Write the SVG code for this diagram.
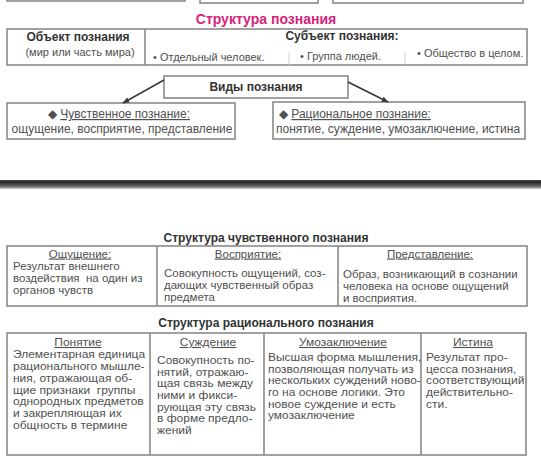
<svg xmlns="http://www.w3.org/2000/svg" width="541" height="472" viewBox="0 0 541 472">
<defs>
<style>
.box{fill:#fff;stroke:#8a8a8a;stroke-width:1.6}
.thin{stroke:#d0d0d0;stroke-width:1}
.t{font-family:"Liberation Sans",Arial,sans-serif;font-size:11px;fill:#505050}
.t12{font-family:"Liberation Sans",Arial,sans-serif;font-size:12px;fill:#505050}
.t11{font-family:"Liberation Sans",Arial,sans-serif;font-size:11px;fill:#505050}
.t115{font-family:"Liberation Sans",Arial,sans-serif;font-size:11.5px;fill:#505050}
.b{font-family:"Liberation Sans",Arial,sans-serif;font-size:12px;font-weight:bold;fill:#333}
.title{font-family:"Liberation Sans",Arial,sans-serif;font-size:14px;font-weight:bold;fill:#d6237b}
.u{text-decoration:underline}
.c{text-anchor:middle}
.conn{stroke:#3a3a3a;stroke-width:1.6;fill:none}
</style>
<marker id="arr" viewBox="0 0 10 10" refX="9" refY="5" markerWidth="7" markerHeight="7" orient="auto" markerUnits="userSpaceOnUse">
<path d="M0,1 L10,5 L0,9 Z" fill="#3a3a3a"/>
</marker>
<linearGradient id="band" x1="0" y1="0" x2="0" y2="1">
<stop offset="0" stop-color="#555"/>
<stop offset="0.2" stop-color="#222"/>
<stop offset="0.7" stop-color="#666"/>
<stop offset="0.85" stop-color="#999"/>
<stop offset="0.9" stop-color="#eee"/>
<stop offset="1" stop-color="#888"/>
</linearGradient>
</defs>

<!-- cropped boxes at top -->
<g id="top-cropped">
<rect class="box" x="7" y="-20" width="178" height="21"/>
<rect class="box" x="200" y="-20" width="118" height="23"/>
<rect class="box" x="333" y="-20" width="190" height="23"/>
</g>

<text class="title c" x="266" y="24">Структура познания</text>

<g id="object-subject">
<rect class="box" x="7" y="29" width="520" height="36"/>
<line class="box" x1="145" y1="29" x2="145" y2="65"/>
<line class="thin" x1="289" y1="52" x2="289" y2="65"/>
<line class="thin" x1="405" y1="52" x2="405" y2="65"/>
<text class="b c" x="78" y="41">Объект познания</text>
<text class="t c" x="80" y="56">(мир или часть мира)</text>
<text class="b c" x="342" y="40">Субъект познания:</text>
<text class="t" x="153" y="61">• Отдельный человек.</text>
<text class="t" x="300" y="60">• Группа людей.</text>
<text class="t" x="417" y="57">• Общество в целом.</text>
</g>

<g id="vidy">
<rect class="box" x="164" y="76" width="184" height="22"/>
<text class="b c" x="256" y="91">Виды познания</text>
</g>

<g id="chuvstv">
<rect class="box" x="7" y="103" width="228" height="36"/>
<text class="t12 c" x="119" y="118">◆ <tspan class="u">Чувственное познание:</tspan></text>
<text class="t12 c" x="122" y="133">ощущение, восприятие, представление</text>
</g>

<g id="racion">
<rect class="box" x="273" y="102" width="252" height="37"/>
<text class="t12" x="279" y="118">◆ <tspan class="u">Рациональное познание:</tspan></text>
<text class="t12" x="276" y="133">понятие, суждение, умозаключение, истина</text>
</g>

<g id="connectors">
<line class="conn" x1="164" y1="80" x2="123" y2="103" marker-end="url(#arr)"/>
<line class="conn" x1="348" y1="82" x2="388" y2="102" marker-end="url(#arr)"/>
</g>

<rect x="0" y="180" width="541" height="9" fill="url(#band)"/>

<text class="b c" x="266" y="242">Структура чувственного познания</text>

<g id="sens-table">
<rect class="box" x="7" y="246" width="520" height="60"/>
<line class="box" x1="157" y1="246" x2="157" y2="306"/>
<line class="box" x1="338" y1="246" x2="338" y2="306"/>
</g>
<g id="oshch">
<text class="t115 c u" x="80" y="257.5">Ощущение:</text>
<text class="t115" x="13" y="269.5">Результат внешнего</text>
<text class="t115" x="13" y="281.5">воздействия&#160; на один из</text>
<text class="t115" x="13" y="293.5">органов чувств</text>
</g>
<g id="vospr">
<text class="t115 c u" x="248" y="257.5">Восприятие:</text>
<text class="t115" x="164" y="277">Совокупность ощущений, соз-</text>
<text class="t115" x="164" y="289">дающих чувственный образ</text>
<text class="t115" x="164" y="301">предмета</text>
</g>
<g id="predst">
<text class="t115 c u" x="430" y="257.5">Представление:</text>
<text class="t115" x="343" y="278">Образ, возникающий в сознании</text>
<text class="t115" x="343" y="290">человека на основе ощущений</text>
<text class="t115" x="343" y="302">и восприятия.</text>
</g>

<text class="b c" x="266" y="327">Структура рационального познания</text>

<g id="rat-table">
<rect class="box" x="7" y="333" width="519" height="122"/>
<line class="box" x1="150" y1="333" x2="150" y2="455"/>
<line class="box" x1="264" y1="333" x2="264" y2="455"/>
<line class="box" x1="421" y1="333" x2="421" y2="455"/>
</g>
<g id="ponyatie" transform="translate(13,0) scale(1.09,1)">
<text class="t11 c u" x="59.6" y="346">Понятие</text>
<text class="t11" x="0" y="358.5">Элементарная единица</text>
<text class="t11" x="0" y="370.2">рационального мышле-</text>
<text class="t11" x="0" y="381.9">ния, отражающая об-</text>
<text class="t11" x="0" y="393.6">щие признаки&#160; группы</text>
<text class="t11" x="0" y="405.3">однородных предметов</text>
<text class="t11" x="0" y="417">и закрепляющая их</text>
<text class="t11" x="0" y="428.7">общность в термине</text>
</g>
<g id="suzhdenie" transform="translate(157,0) scale(1.09,1)">
<text class="t11 c u" x="46.8" y="346">Суждение</text>
<text class="t11" x="0" y="364">Совокупность по-</text>
<text class="t11" x="0" y="375.7">нятий, отражаю-</text>
<text class="t11" x="0" y="387.4">щая связь между</text>
<text class="t11" x="0" y="399.1">ними и фикси-</text>
<text class="t11" x="0" y="410.8">рующая эту связь</text>
<text class="t11" x="0" y="422.5">в форме предло-</text>
<text class="t11" x="0" y="434.2">жений</text>
</g>
<g id="umozakl" transform="translate(268,0) scale(1.09,1)">
<text class="t11 c u" x="68.8" y="346">Умозаключение</text>
<text class="t11" x="0" y="361">Высшая форма мышления,</text>
<text class="t11" x="0" y="372.7">позволяющая получать из</text>
<text class="t11" x="0" y="384.4">нескольких суждений ново-</text>
<text class="t11" x="0" y="396.1">го на основе логики. Это</text>
<text class="t11" x="0" y="407.8">новое суждение и есть</text>
<text class="t11" x="0" y="419.5">умозаключение</text>
</g>
<g id="istina" transform="translate(426,0) scale(1.09,1)">
<text class="t11 c u" x="43.1" y="346">Истина</text>
<text class="t11" x="0" y="361">Результат про-</text>
<text class="t11" x="0" y="372.7">цесса познания,</text>
<text class="t11" x="0" y="384.4">соответствующий</text>
<text class="t11" x="0" y="396.1">действительно-</text>
<text class="t11" x="0" y="407.8">сти.</text>
</g>
</svg>
